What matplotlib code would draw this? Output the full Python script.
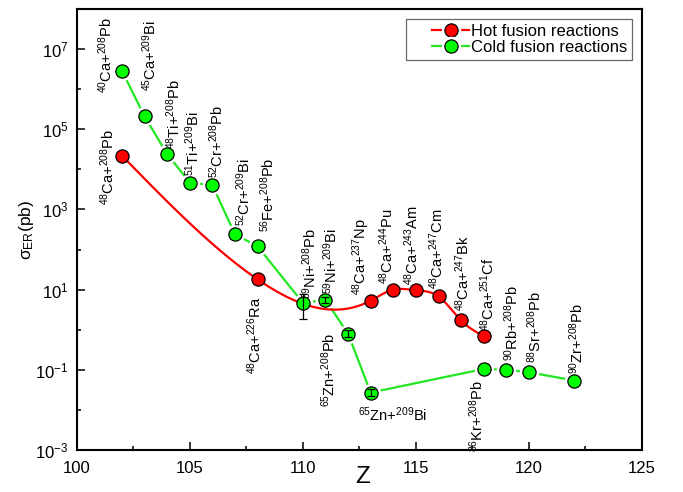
import numpy as np
import matplotlib
matplotlib.use("Agg")
from matplotlib import pyplot as plt
from matplotlib.lines import Line2D
from matplotlib.legend_handler import HandlerTuple
from matplotlib.ticker import FixedLocator, LogFormatterMathtext, NullFormatter, MultipleLocator

plt.rcParams['font.family'] = ['Liberation Sans', 'DejaVu Sans']
plt.rcParams['mathtext.default'] = 'regular'

# hot fusion (48Ca induced)
hot_z = [102, 108, 113, 114, 115, 116, 117, 118]
hot_sigma = [2.2e4, 18, 5.3, 10.0, 9.6, 6.8, 1.7, 0.69]
hot_labels = ["$^{48}$Ca+$^{208}$Pb", "$^{48}$Ca+$^{226}$Ra", "$^{48}$Ca+$^{237}$Np",
              "$^{48}$Ca+$^{244}$Pu", "$^{48}$Ca+$^{243}$Am", "$^{48}$Ca+$^{247}$Cm",
              "$^{48}$Ca+$^{247}$Bk", "$^{48}$Ca+$^{251}$Cf"]

# cold fusion
cold_z = [102, 103, 104, 105, 106, 107, 108, 110, 111, 112, 113, 118, 119, 120, 122]
cold_sigma = [2.9e6, 2.1e5, 2.4e4, 4.7e3, 4.0e3, 240, 120, 4.7, 5.5, 0.8, 0.027,
              0.105, 0.10, 0.087, 0.054]
cold_labels = ["$^{40}$Ca+$^{208}$Pb", "$^{45}$Ca+$^{209}$Bi", "$^{48}$Ti+$^{208}$Pb",
               "$^{51}$Ti+$^{209}$Bi", "$^{52}$Cr+$^{208}$Pb", "$^{52}$Cr+$^{209}$Bi",
               "$^{56}$Fe+$^{208}$Pb", "$^{59}$Ni+$^{208}$Pb", "$^{59}$Ni+$^{209}$Bi",
               "$^{65}$Zn+$^{208}$Pb", "$^{65}$Zn+$^{209}$Bi", "$^{86}$Kr+$^{208}$Pb",
               "$^{90}$Rb+$^{208}$Pb", "$^{88}$Sr+$^{208}$Pb", "$^{90}$Zr+$^{208}$Pb"]

# error bars (cold fusion points)
err_z = [110, 111, 112, 113]
err_sigma = [4.7, 5.5, 0.8, 0.027]
err_low = [1.9, 4.6, 0.67, 0.0225]
err_high = [7.6, 6.6, 0.96, 0.0325]

# label placement: (dx, dy) in points, ha, va, rotation
hot_place = [((-10, -8), 'center', 'center', 90), ((-2, -12), 'center', 'top', 90),
             ((-7, 4), 'center', 'bottom', 90), ((-5, 4), 'center', 'bottom', 90),
             ((-3, 4), 'center', 'bottom', 90), ((-1, 5), 'center', 'bottom', 90),
             ((1, 7), 'center', 'bottom', 90), ((3, 4), 'center', 'bottom', 90)]
cold_place = [((-12, -16), 'center', 'bottom', 90), ((4, 18), 'center', 'bottom', 90),
              ((5, 4), 'center', 'bottom', 90), ((2, 5), 'center', 'bottom', 90),
              ((3, 5), 'center', 'bottom', 90), ((6, 6), 'center', 'bottom', 90),
              ((7, 10), 'center', 'bottom', 90), ((5, 3), 'center', 'bottom', 90),
              ((4, 4), 'center', 'bottom', 90), ((-14, 1), 'center', 'top', 90),
              ((-9, -9), 'left', 'top', 0), ((-5, -8), 'center', 'top', 90),
              ((4, 6), 'center', 'bottom', 90), ((4, 7), 'center', 'bottom', 90),
              ((2, 5), 'center', 'bottom', 90)]


def natural_spline(x, y, xs):
    x = np.asarray(x, float)
    y = np.asarray(y, float)
    n = len(x)
    h = np.diff(x)
    A = np.zeros((n, n))
    b = np.zeros(n)
    A[0, 0] = A[-1, -1] = 1
    for i in range(1, n - 1):
        A[i, i - 1] = h[i - 1]
        A[i, i] = 2 * (h[i - 1] + h[i])
        A[i, i + 1] = h[i]
        b[i] = 6 * ((y[i + 1] - y[i]) / h[i] - (y[i] - y[i - 1]) / h[i - 1])
    m = np.linalg.solve(A, b)
    k = np.clip(np.searchsorted(x, xs) - 1, 0, n - 2)
    t0 = x[k + 1] - xs
    t1 = xs - x[k]
    hk = h[k]
    return (m[k] * t0 ** 3 / (6 * hk) + m[k + 1] * t1 ** 3 / (6 * hk)
            + (y[k] / hk - m[k] * hk / 6) * t0 + (y[k + 1] / hk - m[k + 1] * hk / 6) * t1)


red = '#ff0000'
green = '#00ff00'
gline = '#22e622'

fig = plt.figure(figsize=(6.83, 4.92), dpi=100)
ax = fig.add_axes([0.1123, 0.0854, 0.8277, 0.8963])
ax.set_yscale('log')
ax.set_xlim(100, 125)
ax.set_ylim(1e-3, 1e8)

# cold: straight segments with a small gap around the symbols
ax.plot(cold_z, cold_sigma, color=gline, lw=1.6, zorder=2)
ax.plot(cold_z, cold_sigma, ls='none', marker='o', ms=14, mfc='white', mec='none', zorder=2.5)

# hot: spline through the points (log scale)
zs = np.linspace(hot_z[0], hot_z[-1], 400)
ax.plot(zs, 10 ** natural_spline(hot_z, np.log10(hot_sigma), zs), color=red, lw=1.6, zorder=3)

ax.plot(cold_z, cold_sigma, ls='none', marker='o', ms=9.5, mfc=green, mec='black', mew=0.9, zorder=4)
ax.plot(hot_z, hot_sigma, ls='none', marker='o', ms=9.5, mfc=red, mec='black', mew=0.9, zorder=4)

yerr = [np.array(err_sigma) - np.array(err_low), np.array(err_high) - np.array(err_sigma)]
ax.errorbar(err_z, err_sigma, yerr=yerr, fmt='none', ecolor='black', elinewidth=0.9,
            capsize=3, capthick=0.9, zorder=5)

for z, s, lab, (off, ha, va, rot) in zip(hot_z, hot_sigma, hot_labels, hot_place):
    ax.annotate(lab, (z, s), xytext=off, textcoords='offset points', ha=ha, va=va,
                rotation=rot, fontsize=10.5, zorder=6)
for z, s, lab, (off, ha, va, rot) in zip(cold_z, cold_sigma, cold_labels, cold_place):
    ax.annotate(lab, (z, s), xytext=off, textcoords='offset points', ha=ha, va=va,
                rotation=rot, fontsize=10.5, zorder=6)

ax.xaxis.set_major_locator(MultipleLocator(5))
ax.xaxis.set_minor_locator(MultipleLocator(2.5))
ax.yaxis.set_major_locator(FixedLocator([1e-3, 1e-1, 1e1, 1e3, 1e5, 1e7]))
ax.yaxis.set_minor_locator(FixedLocator([1e-2, 1e0, 1e2, 1e4, 1e6]))
ax.yaxis.set_major_formatter(LogFormatterMathtext())
ax.yaxis.set_minor_formatter(NullFormatter())
ax.tick_params(which='both', direction='in', width=1.1, labelsize=12)
ax.tick_params(which='major', length=5.5)
ax.tick_params(which='minor', length=3)
ax.tick_params(axis='x', pad=8)
ax.tick_params(axis='y', pad=6)
for sp in ax.spines.values():
    sp.set_linewidth(1.5)

ax.set_xlabel('Z', fontsize=17.5)
ax.xaxis.set_label_coords(0.506, -0.036)
ax.set_ylabel(r'$\sigma_{ER}$(pb)', fontsize=12.5)
ax.yaxis.set_label_coords(-0.072, 0.5)

halo = Line2D([], [], ls='none', marker='o', ms=14, mfc='white', mec='none')
h_hot = (Line2D([], [], color=red, lw=1.6), halo,
         Line2D([], [], ls='none', marker='o', ms=9.5, mfc=red, mec='black', mew=0.9))
h_cold = (Line2D([], [], color=gline, lw=1.6), halo,
          Line2D([], [], ls='none', marker='o', ms=9.5, mfc=green, mec='black', mew=0.9))
leg = ax.legend([h_hot, h_cold], ['Hot fusion reactions', 'Cold fusion reactions'],
                handler_map={tuple: HandlerTuple(ndivide=1, pad=0, xpad=1.3)}, loc='upper right',
                fontsize=12, frameon=True, fancybox=False, handlelength=3.5,
                handletextpad=0.1, labelspacing=0.05, borderpad=0.3, borderaxespad=0.6)
leg.get_frame().set_edgecolor('#444444')
leg.get_frame().set_linewidth(0.9)

fig.savefig('out.png', dpi=100)
